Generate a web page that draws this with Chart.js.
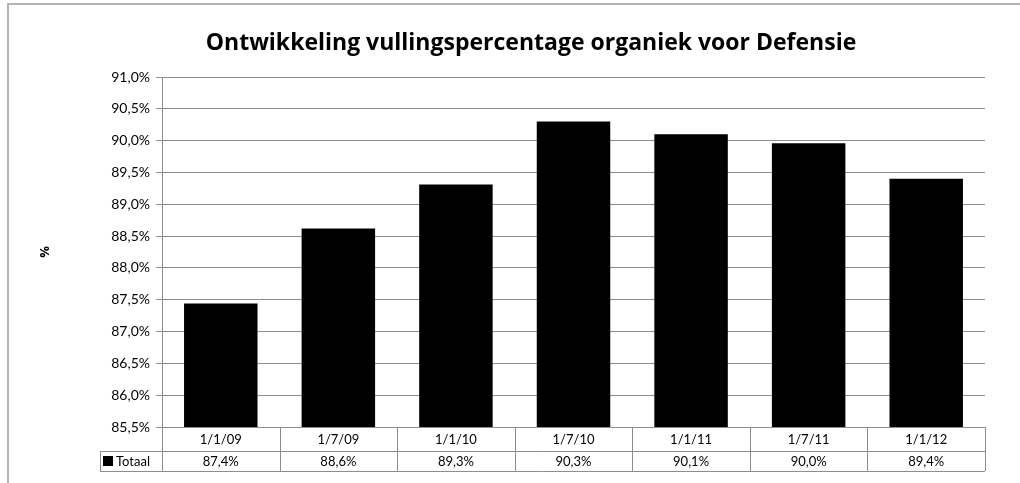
<!DOCTYPE html>
<html>
<head>
<meta charset="utf-8">
<script src="https://cdn.jsdelivr.net/npm/chart.js@4"></script>
<style>
  html, body { margin: 0; padding: 0; background: #fff; }
  #wrap { width: 1020px; height: 483px; }
</style>
</head>
<body>
<div id="wrap"><canvas id="chart" width="1020" height="483"></canvas></div>
<script>
const categories = ['1/1/09', '1/7/09', '1/1/10', '1/7/10', '1/1/11', '1/7/11', '1/1/12'];
const totaal = [87.44, 88.62, 89.31, 90.3, 90.1, 89.96, 89.4];
const tableLabels = ['87,4%', '88,6%', '89,3%', '90,3%', '90,1%', '90,0%', '89,4%'];
const seriesName = 'Totaal';
const chartTitle = 'Ontwikkeling vullingspercentage organiek voor Defensie';

const FONT = 'Lato, "Open Sans", sans-serif';
const TITLE_FONT = '"Open Sans", Lato, sans-serif';
const lineGray = '#8e8e8e';

// draws title, outer border, y title and the data table under the bars
const decorations = {
  id: 'decorations',
  afterDraw(chart) {
    const ctx = chart.ctx;
    const area = chart.chartArea;
    const x = chart.scales.x;
    ctx.save();

    // outer frame
    ctx.strokeStyle = '#b4b4b4';
    ctx.lineWidth = 2;
    ctx.strokeRect(8, 4, 1040, 520);

    // title
    ctx.fillStyle = '#000';
    ctx.font = 'bold 23px ' + TITLE_FONT;
    ctx.textAlign = 'center';
    ctx.textBaseline = 'middle';
    ctx.fillText(chartTitle, 531, 43);

    // y axis title
    ctx.save();
    ctx.translate(45, 252);
    ctx.rotate(-Math.PI / 2);
    ctx.font = 'bold 13px ' + TITLE_FONT;
    ctx.fillText('%', 0, 0);
    ctx.restore();

    // data table
    const colW = (area.right - area.left) / categories.length;
    const top = area.bottom;
    const mid = top + 24;
    const bot = mid + 20;
    const legendLeft = 100;

    ctx.strokeStyle = lineGray;
    ctx.lineWidth = 1;
    ctx.beginPath();
    ctx.moveTo(area.left, top + 0.5); ctx.lineTo(area.right, top + 0.5);
    ctx.moveTo(legendLeft, mid + 0.5); ctx.lineTo(area.right, mid + 0.5);
    ctx.moveTo(legendLeft, bot + 0.5); ctx.lineTo(area.right, bot + 0.5);
    ctx.moveTo(legendLeft + 0.5, mid); ctx.lineTo(legendLeft + 0.5, bot);
    for (let i = 0; i <= categories.length; i++) {
      const bx = Math.round(area.left + i * colW) + 0.5;
      ctx.moveTo(bx, top); ctx.lineTo(bx, bot);
    }
    ctx.stroke();

    ctx.font = '13px ' + FONT;
    ctx.fillStyle = '#000';
    ctx.textAlign = 'center';
    categories.forEach((c, i) => {
      const cx = x.getPixelForValue(i);
      ctx.fillText(c, cx, (top + mid) / 2 + 1);
      ctx.fillText(tableLabels[i], cx, (mid + bot) / 2 + 1);
    });

    // legend key
    ctx.fillRect(103, mid + 5, 10, 10);
    ctx.textAlign = 'left';
    ctx.fillText(seriesName, 116, (mid + bot) / 2 + 1);

    ctx.restore();
  }
};

new Chart(document.getElementById('chart'), {
  type: 'bar',
  data: {
    labels: categories,
    datasets: [{
      label: seriesName,
      data: totaal,
      backgroundColor: '#000',
      borderWidth: 0,
      categoryPercentage: 1,
      barPercentage: 0.625
    }]
  },
  options: {
    responsive: false,
    animation: false,
    layout: { padding: { top: 77, right: 35, bottom: 56, left: 0 } },
    plugins: {
      legend: { display: false },
      title: { display: false },
      tooltip: { enabled: false }
    },
    scales: {
      x: { display: false },
      y: {
        min: 85.5,
        max: 91,
        afterFit: s => { s.width = 162; },
        border: { color: lineGray, width: 1 },
        grid: { color: lineGray, tickLength: 6, tickColor: lineGray },
        ticks: {
          stepSize: 0.5,
          color: '#000',
          padding: 6,
          font: { family: FONT, size: 14 },
          callback: v => v.toFixed(1).replace('.', ',') + '%'
        }
      }
    }
  },
  plugins: [decorations]
});
</script>
</body>
</html>
